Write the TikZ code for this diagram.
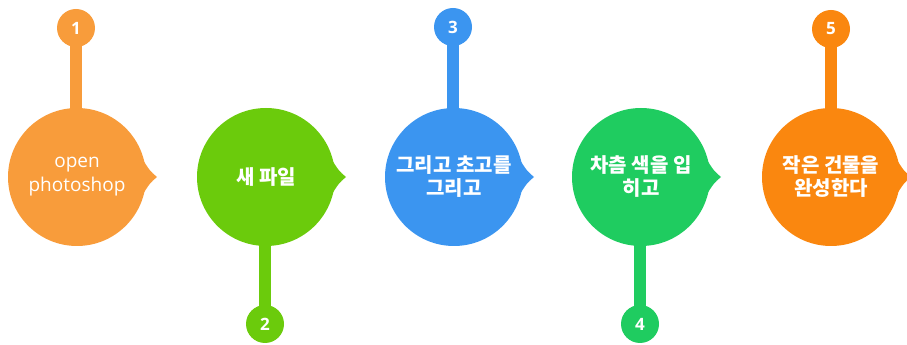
\documentclass[tikz,border=0pt]{standalone}
\usepackage{fontspec}
\usetikzlibrary{backgrounds}
\setmainfont{Open Sans}
\newfontfamily\kr{Noto Sans CJK KR}
\definecolor{cone}{HTML}{F89C3B}
\definecolor{ctwo}{HTML}{6BCB0C}
\definecolor{cthree}{HTML}{3B95F0}
\definecolor{cfour}{HTML}{1FCC60}
\definecolor{cfive}{HTML}{FA870F}
\newcommand\bubbletip[2]{%
  \fill[#2] ([shift={(66,17)}]#1.center) .. controls ([shift={(73,6)}]#1.center) .. ([shift={(80,0)}]#1.center)
     .. controls ([shift={(73,-6)}]#1.center) .. ([shift={(66,-17)}]#1.center) -- (#1.center) -- cycle;}
\begin{document}
\begin{tikzpicture}[x=1pt,y=1pt,
  bubble/.style={circle, fill=#1, minimum size=138pt, inner sep=0pt, text=white, align=center},
  badge/.style={circle, fill=#1, minimum size=38pt, inner sep=0pt, text=white, font=\fontsize{17}{17}\selectfont\bfseries},
  stem/.style={draw=#1, line width=12pt, shorten <=-1.5pt, shorten >=-1.5pt},
  ko/.style={font=\kr\bfseries\fontsize{20}{23}\selectfont},
  en/.style={font=\fontsize{19}{24}\selectfont}]
\useasboundingbox (0,0) rectangle (907,345);
% bubbles
\node[bubble=cone, en] (b1) at (77,168) {open\\photoshop};
\node[bubble=ctwo, ko] (b2) at (266,168) {새 파일};
\node[bubble=cthree, ko] (b3) at (454,168) {그리고 초고를\\그리고};
\node[bubble=cfour, ko] (b4) at (641,168) {차츰 색을 입\\히고};
\node[bubble=cfive, ko] (b5) at (831,168) {작은 건물을\\완성한다};
% badges
\node[badge=cone] (n1) at (76,317) {1};
\node[badge=ctwo] (n2) at (265,21) {2};
\node[badge=cthree] (n3) at (453,318) {3};
\node[badge=cfour] (n4) at (640,21) {4};
\node[badge=cfive] (n5) at (831,316) {5};
\begin{scope}[on background layer]
% tips
\bubbletip{b1}{cone}
\bubbletip{b2}{ctwo}
\bubbletip{b3}{cthree}
\bubbletip{b4}{cfour}
\bubbletip{b5}{cfive}
% stems
\draw[stem=cone] (n1) -- (n1 |- b1.north);
\draw[stem=ctwo] (n2) -- (n2 |- b2.south);
\draw[stem=cthree] (n3) -- (n3 |- b3.north);
\draw[stem=cfour] (n4) -- (n4 |- b4.south);
\draw[stem=cfive] (n5) -- (n5 |- b5.north);
\end{scope}
\end{tikzpicture}
\end{document}
